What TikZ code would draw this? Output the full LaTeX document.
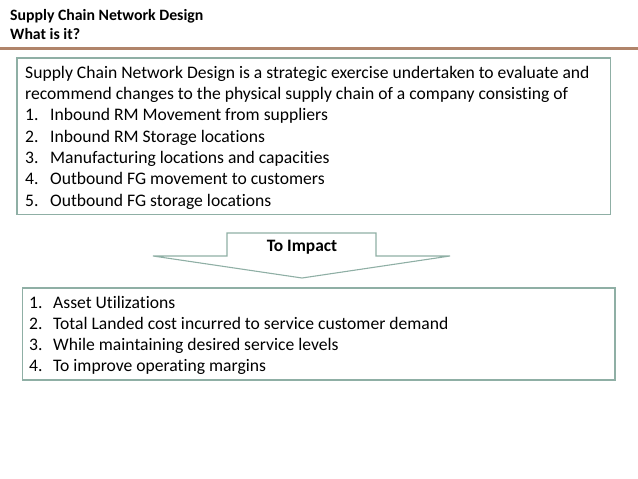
\documentclass[tikz,border=0pt]{standalone}
\usepackage{fontspec}
\setmainfont[Ligatures={NoCommon}]{Carlito}
\usepackage{tikz}
\definecolor{boxline}{HTML}{8FAFA5}
\definecolor{rule}{HTML}{B0846A}
\tikzstyle{box} = [draw=boxline,line width=1.4pt]
\tikzstyle{txt} = [anchor=base west,inner sep=0,font=\fontsize{17.6}{21}\selectfont]
\tikzstyle{head} = [anchor=base west,inner sep=0,font=\fontsize{15.8}{19}\selectfont\bfseries]
\newcommand{\num}[1]{\makebox[25pt][l]{#1}}

\begin{document}
\begin{tikzpicture}[x=1pt,y=-1pt]
    \useasboundingbox (0,0) rectangle (638,479);

    \node[head] (title) at (10,20.7) {Supply Chain Network Design};
    \node[head] (what) at (10,39.3) {What is it?};
    \draw[rule,line width=3pt] (0,48) -- (638,48);

    \draw[box] (17,58) rectangle (610.5,214.5);
    \node[txt] (d1) at (25,78.3) {Supply Chain Network Design is a strategic exercise undertaken to evaluate and};
    \node[txt] (d2) at (25,99.6) {recommend changes to the physical supply chain of a company consisting of};
    \node[txt] (a1) at (25,120.9) {\num{1.}Inbound RM Movement from suppliers};
    \node[txt] (a2) at (25,142.2) {\num{2.}Inbound RM Storage locations};
    \node[txt] (a3) at (25,163.5) {\num{3.}Manufacturing locations and capacities};
    \node[txt] (a4) at (25,184.8) {\num{4.}Outbound FG movement to customers};
    \node[txt] (a5) at (25,206.1) {\num{5.}Outbound FG storage locations};

    \draw[box,line width=1.1pt] (227,233) -- (376,233) -- (376,256) -- (450,256)
        -- (302,278) -- (153,256) -- (227,256) -- cycle;
    \node[inner sep=0,font=\fontsize{17.4}{21}\selectfont\bfseries] (impact) at (302,251) [anchor=base] {To Impact};

    \draw[box] (22.5,288) rectangle (615,380);
    \node[txt] (b1) at (29,308.3) {\makebox[24pt][l]{1.}Asset Utilizations};
    \node[txt] (b2) at (29,329.5) {\makebox[24pt][l]{2.}Total Landed cost incurred to service customer demand};
    \node[txt] (b3) at (29,350.7) {\makebox[24pt][l]{3.}While maintaining desired service levels};
    \node[txt] (b4) at (29,371.9) {\makebox[24pt][l]{4.}To improve operating margins};
\end{tikzpicture}
\end{document}
